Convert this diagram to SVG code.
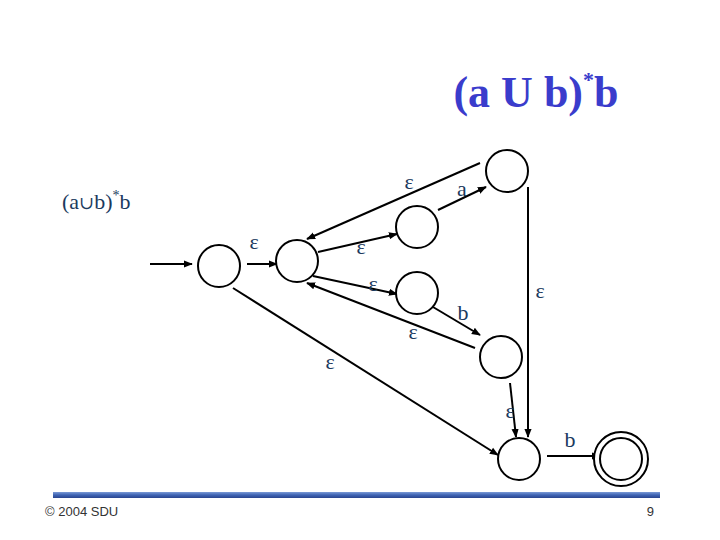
<svg xmlns="http://www.w3.org/2000/svg" width="720" height="540" viewBox="0 0 720 540">
<defs>
<marker id="ah" viewBox="0 0 10 10" refX="9" refY="5" markerWidth="9" markerHeight="9" markerUnits="userSpaceOnUse" orient="auto">
<path d="M0,1 L10,5 L0,9 z" fill="#000"/>
</marker>
<linearGradient id="bar" x1="0" y1="0" x2="0" y2="1">
<stop offset="0" stop-color="#7a9ad6"/>
<stop offset="0.5" stop-color="#3f64b4"/>
<stop offset="1" stop-color="#2a458f"/>
</linearGradient>
<style>
.st{fill:#fff;stroke:#000;stroke-width:2}
.e{fill:none;stroke:#000;stroke-width:2}
.a{marker-end:url(#ah)}
.lb{font-family:'Liberation Serif','Times New Roman',serif;font-size:22px;fill:#1b3a5e;text-anchor:middle}
</style>
</defs>
<text x="536" y="107" font-family="Liberation Serif,serif" font-weight="bold" font-size="44" fill="#3a3ccc" text-anchor="middle">(a U b)<tspan font-size="22" dy="-20">*</tspan><tspan dy="20">b</tspan></text>
<text x="62" y="209" font-family="Liberation Serif,serif" font-size="22" fill="#1b3a5e">(a<tspan font-family="DejaVu Serif,serif" font-size="18">∪</tspan>b)<tspan font-size="14" dy="-9">*</tspan><tspan dy="9">b</tspan></text>
<g id="connectors">
<line class="e a" x1="150" y1="264" x2="192" y2="264"/>
<line class="e a" x1="247" y1="264" x2="277" y2="264"/>
<line class="e a" x1="318" y1="252" x2="397" y2="234"/>
<line class="e a" x1="313" y1="276" x2="397" y2="294"/>
<line class="e a" x1="480" y1="163" x2="307" y2="239"/>
<line class="e a" x1="475" y1="348" x2="307" y2="283"/>
<line class="e a" x1="438" y1="210" x2="486" y2="187"/>
<line class="e a" x1="433" y1="307" x2="480" y2="335"/>
<line class="e a" x1="528" y1="187" x2="528" y2="437"/>
<line class="e a" x1="510" y1="383" x2="516" y2="437"/>
<line class="e a" x1="233" y1="288" x2="498" y2="455"/>
<line class="e a" x1="547" y1="456" x2="600" y2="456"/>
</g>
<g id="labels">
<text class="lb" x="254" y="249">ε</text>
<text class="lb" x="361" y="254">ε</text>
<text class="lb" x="373" y="291">ε</text>
<text class="lb" x="409" y="189">ε</text>
<text class="lb" x="462" y="196">a</text>
<text class="lb" x="540" y="298">ε</text>
<text class="lb" x="463" y="320">b</text>
<text class="lb" x="413" y="339">ε</text>
<text class="lb" x="330" y="369">ε</text>
<text class="lb" x="510" y="418">ε</text>
<text class="lb" x="570" y="447">b</text>
</g>
<g id="s1"><circle class="st" cx="219" cy="266" r="21"/></g>
<g id="s2"><circle class="st" cx="297" cy="261" r="21"/></g>
<g id="s3"><circle class="st" cx="417" cy="227" r="21"/></g>
<g id="s4"><circle class="st" cx="417" cy="293" r="21"/></g>
<g id="s5"><circle class="st" cx="507" cy="171" r="21"/></g>
<g id="s6"><circle class="st" cx="501" cy="357" r="21"/></g>
<g id="s7"><circle class="st" cx="519" cy="459" r="21"/></g>
<g id="s8"><circle class="st" cx="621" cy="459" r="27"/><circle class="st" cx="621" cy="459" r="21"/></g>
<rect x="53" y="492" width="607" height="6" fill="url(#bar)"/>
<text x="45" y="516" font-family="Liberation Sans,Arial,sans-serif" font-size="13" fill="#333">© 2004 SDU</text>
<text x="654" y="516" font-family="Liberation Sans,Arial,sans-serif" font-size="13" fill="#333" text-anchor="end">9</text>
</svg>
